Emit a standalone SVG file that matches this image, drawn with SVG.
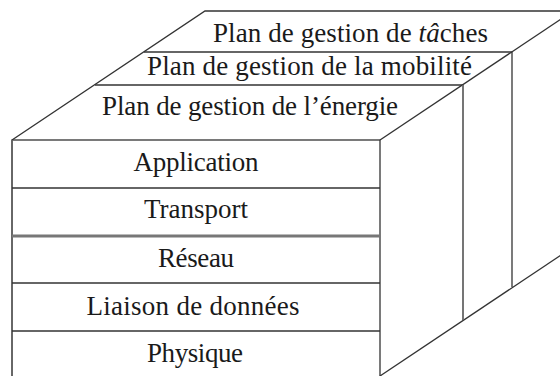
<svg xmlns="http://www.w3.org/2000/svg" width="560" height="376" viewBox="0 0 560 376">
<style>
  .ln { stroke: #333; stroke-width: 1.3; fill: none; }
  .gl { stroke: #666; stroke-width: 1.8; fill: none; }
  .lb { font-family: "Liberation Serif", "Times New Roman", serif; font-size: 27px; fill: #1a1a1a; text-anchor: middle; }
</style>
<rect width="560" height="376" fill="#fff"/>
<g id="faces">
  <polyline class="ln" points="12,140 205,11 575,11"/>
  <line class="ln" x1="380" y1="140" x2="575" y2="9.7"/>
  <line class="ln" x1="380" y1="376" x2="575" y2="245.7"/>
  <line class="ln" x1="144" y1="52" x2="512" y2="52"/>
  <line class="ln" x1="95" y1="85" x2="463" y2="85"/>
  <line class="gl" x1="463" y1="85" x2="463" y2="320"/>
  <line class="ln" x1="512" y1="52" x2="512" y2="287"/>
</g>
<g id="plan-taches"><text class="lb" x="350.5" y="42" textLength="275">Plan de gestion de <tspan font-style="italic">tâ</tspan>ches</text></g>
<g id="plan-mobilite"><text class="lb" x="309.5" y="75" textLength="325">Plan de gestion de la mobilité</text></g>
<g id="plan-energie"><text class="lb" x="250" y="115" textLength="296">Plan de gestion de l’énergie</text></g>
<g id="front">
  <rect class="ln" x="12" y="140" width="368" height="238"/>
  <line class="gl" x1="12" y1="140" x2="12" y2="378"/>
</g>
<g id="application"><text class="lb" x="196" y="171" textLength="125">Application</text></g>
<line class="ln" x1="12" y1="188" x2="380" y2="188"/>
<g id="transport"><text class="lb" x="196" y="218" textLength="104">Transport</text></g>
<line x1="12" y1="236" x2="380" y2="236" stroke="#777" stroke-width="3"/>
<g id="reseau"><text class="lb" x="196" y="267" textLength="76">Réseau</text></g>
<line class="ln" x1="12" y1="283" x2="380" y2="283"/>
<g id="liaison"><text class="lb" x="193" y="315" textLength="213">Liaison de données</text></g>
<line class="ln" x1="12" y1="331" x2="380" y2="331"/>
<g id="physique"><text class="lb" x="195" y="362" textLength="96">Physique</text></g>
</svg>
